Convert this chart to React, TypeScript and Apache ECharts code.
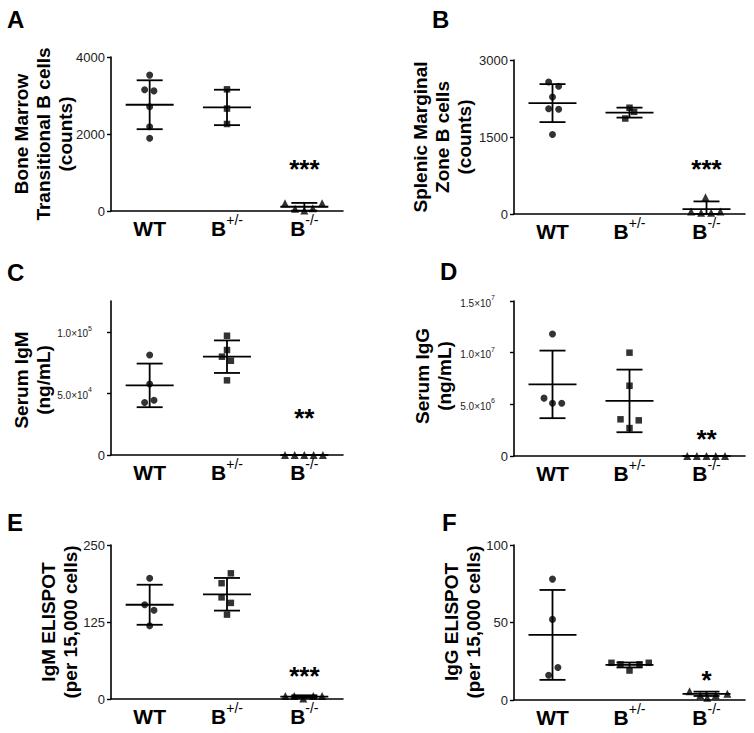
import React, { useEffect, useRef } from 'react';
import * as echarts from 'echarts';

const FONT = '"Liberation Sans", Arial, Helvetica, sans-serif';

const categories = ['WT', 'B+/-', 'B-/-'];
const catSup: Record<string, string> = { 'WT': '', 'B+/-': '+/-', 'B-/-': '-/-' };

// Panel A – Bone marrow transitional B cells (counts)
const aWT = [3530, 3150, 3120, 2710, 2190, 1890];
const aHet = [3160, 2660, 2260];
const aKO = [200, 60, 10, 70, 200];
const aMean = [2760, 2690, 110];
const aSD = [635, 460, 100];
const aTicks = [0, 2000, 4000];
const aStar = 1100;

// Panel B – Splenic marginal zone B cells (counts)
const bWT = [2570, 2490, 2280, 2050, 2040, 1550];
const bHet = [2070, 1990, 1860];
const bKO = [50, 25, 325, 25, 50];
const bMean = [2160, 1975, 95];
const bSD = [370, 97, 150];
const bTicks = [0, 1500, 3000];
const bStar = 870;

// Panel C – Serum IgM (ng/mL)
const cWT = [81100, 57700, 44500, 42600];
const cHet = [96800, 85200, 79800, 76500, 60600];
const cKO = [0, 0, 0, 0, 0];
const cMean = [56500, 79800, 0];
const cSD = [17700, 13200, 0];
const cTicks = [0, 50000, 100000];
const cStar = 30000;

// Panel D – Serum IgG (ng/mL)
const dWT = [11800000, 5600000, 5100000, 5100000];
const dHet = [10000000, 6800000, 3550000, 3450000, 2700000];
const dKO = [0, 0, 0, 0, 0];
const dMean = [6930000, 5330000, 0];
const dSD = [3270000, 3030000, 0];
const dTicks = [0, 5000000, 10000000, 15000000];
const dStar = 1620000;

// Panel E – IgM ELISPOT (per 15,000 cells)
const eWT = [196, 153, 144, 119];
const eHet = [204, 188, 165, 156, 137];
const eKO = [5, 5, 1, 5, 5];
const eMean = [153, 170, 4];
const eSD = [32.5, 26.5, 2];
const eTicks = [0, 125, 250];
const eStar = 37;

// Panel F – IgG ELISPOT (per 15,000 cells)
const fWT = [78, 52, 21, 16];
const fHet = [24, 23, 19, 23, 24];
const fKO = [5.7, 3, 1.5, 3, 4];
const fMean = [42, 22.6, 4];
const fSD = [29, 1.6, 1.4];
const fTicks = [0, 50, 100];
const fStar = 13;

// horizontal jitter of points within each group (category units)
const aJit = [[0, -0.065, 0.055, 0, 0, 0], [0, 0, 0], [-0.25, -0.12, 0, 0.11, 0.23]];
const bJit = [[-0.05, 0.08, 0, -0.05, 0.08, 0], [0, 0.06, -0.055], [-0.2, -0.07, -0.013, 0.06, 0.18]];
const cJit = [[0, 0, 0.056, -0.065], [0, 0, -0.065, 0.05, 0], [-0.25, -0.125, 0, 0.12, 0.24]];
const dJit = [[0, -0.11, 0, 0.12], [0, 0, -0.117, 0.12, 0], [-0.25, -0.125, 0, 0.12, 0.24]];
const eJit = [[0, -0.064, 0.056, 0], [0.05, -0.07, -0.07, 0.05, 0], [-0.245, -0.13, -0.013, 0.116, 0.23]];
const fJit = [[0, 0, 0.07, -0.05], [-0.234, -0.117, 0, 0.13, 0.25], [-0.22, -0.08, 0.01, 0.12, 0.27]];

const panels = [
  { letter: 'A', groups: [aWT, aHet, aKO], jit: aJit, mean: aMean, sd: aSD, ticks: aTicks, max: 4000, sci: false, star: aStar, stars: '***',
    title: 'Bone Marrow\nTransitional B cells\n(counts)' },
  { letter: 'B', groups: [bWT, bHet, bKO], jit: bJit, mean: bMean, sd: bSD, ticks: bTicks, max: 3000, sci: false, star: bStar, stars: '***',
    title: 'Splenic Marginal\nZone B cells\n(counts)' },
  { letter: 'C', groups: [cWT, cHet, cKO], jit: cJit, mean: cMean, sd: cSD, ticks: cTicks, max: 125000, sci: true, star: cStar, stars: '**',
    title: 'Serum IgM\n(ng/mL)' },
  { letter: 'D', groups: [dWT, dHet, dKO], jit: dJit, mean: dMean, sd: dSD, ticks: dTicks, max: 15000000, sci: true, star: dStar, stars: '**',
    title: 'Serum IgG\n(ng/mL)' },
  { letter: 'E', groups: [eWT, eHet, eKO], jit: eJit, mean: eMean, sd: eSD, ticks: eTicks, max: 250, sci: false, star: eStar, stars: '***',
    title: 'IgM ELISPOT\n(per 15,000 cells)' },
  { letter: 'F', groups: [fWT, fHet, fKO], jit: fJit, mean: fMean, sd: fSD, ticks: fTicks, max: 100, sci: false, star: fStar, stars: '*',
    title: 'IgG ELISPOT\n(per 15,000 cells)' },
];

// layout (pixels)
const grids = [
  { left: 111, top: 57, width: 232, height: 154 },
  { left: 514, top: 60, width: 231, height: 154 },
  { left: 111, top: 301, width: 232, height: 154 },
  { left: 514, top: 301, width: 231, height: 155 },
  { left: 111, top: 545, width: 232, height: 154 },
  { left: 514, top: 545, width: 231, height: 155 },
];
const letterPos = [[7, 7], [432, 7], [7, 260], [440, 259], [7, 510], [442, 510]];
const titlePos = [[43.5, 134], [442, 137], [32, 380], [433.5, 376], [59, 622], [462, 622]];
const symbols = ['circle', 'rect', 'triangle'];
const symbolSizes = [7, 6.5, 8];

const sciFmt = (v: number) => {
  if (v === 0) return '0';
  const e = Math.floor(Math.log10(v) + 1e-9);
  const m = v / Math.pow(10, e);
  return `{n|${m.toFixed(1)}×10}{e|${e}}`;
};

export default function App() {
  const ref = useRef<HTMLDivElement>(null);
  useEffect(() => {
    if (!ref.current) return;
    const chart = echarts.init(ref.current, undefined, { renderer: 'svg' });
    const black = '#000';
    const grid: any[] = [];
    const xAxis: any[] = [];
    const yAxis: any[] = [];
    const series: any[] = [];
    const graphic: any[] = [];

    panels.forEach((p, i) => {
      grid.push({ ...grids[i], containLabel: false });
      xAxis.push({
        type: 'category', gridIndex: i, data: categories, boundaryGap: true,
        axisLine: { onZero: false, lineStyle: { color: black, width: 1.6 } },
        axisTick: { alignWithLabel: true, length: 4, lineStyle: { color: black, width: 1.4 } },
        axisLabel: {
          margin: 2,
          formatter: (v: string) => (catSup[v] ? `{b|B}{s|${catSup[v]}}` : `{b|${v}}`),
          rich: {
            b: { fontFamily: FONT, fontSize: 21, fontWeight: 'bold', color: black, lineHeight: 26, verticalAlign: 'bottom' },
            s: { fontFamily: FONT, fontSize: 14, color: black, lineHeight: 14, verticalAlign: 'top' },
          },
        },
      });
      xAxis.push({ type: 'value', gridIndex: i, min: -0.5, max: 2.5, show: false, axisLine: { onZero: false } });
      yAxis.push({
        type: 'value', gridIndex: i, min: 0, max: p.max,
        splitLine: { show: false },
        axisLine: { show: true, onZero: false, lineStyle: { color: black, width: 1.6 } },
        axisTick: { show: true, length: 4, customValues: p.ticks, lineStyle: { color: black, width: 1.4 } },
        axisLabel: {
          customValues: p.ticks,
          margin: 6,
          fontFamily: FONT,
          fontSize: 13,
          color: '#222',
          formatter: p.sci ? sciFmt : (v: number) => String(v),
          rich: {
            n: { fontFamily: FONT, fontSize: 10, color: '#222', lineHeight: 14, verticalAlign: 'bottom' },
            e: { fontFamily: FONT, fontSize: 7, color: '#222', lineHeight: 14, verticalAlign: 'top', padding: [0, 13, 0, 0] },
          },
        },
      });

      // error bars (mean ± SD)
      series.push({
        type: 'custom', xAxisIndex: 2 * i + 1, yAxisIndex: i,
        data: p.mean.map((m, k) => [k, m, p.sd[k]]),
        renderItem: (_params: any, api: any) => {
          const x = api.value(0), m = api.value(1), s = api.value(2);
          const c = api.coord([x, m]);
          const hi = api.coord([x, m + s]);
          const lo = api.coord([x, Math.max(0, m - s)]);
          const style = { stroke: black, lineWidth: 1.8 };
          return {
            type: 'group',
            children: [
              { type: 'line', shape: { x1: c[0] - 24, y1: c[1], x2: c[0] + 24, y2: c[1] }, style },
              { type: 'line', shape: { x1: c[0], y1: hi[1], x2: c[0], y2: lo[1] }, style },
              { type: 'line', shape: { x1: c[0] - 13, y1: hi[1], x2: c[0] + 13, y2: hi[1] }, style },
              { type: 'line', shape: { x1: c[0] - 13, y1: lo[1], x2: c[0] + 13, y2: lo[1] }, style },
            ],
          };
        },
      });

      // individual points
      p.groups.forEach((g, k) => {
        series.push({
          type: 'scatter', xAxisIndex: 2 * i + 1, yAxisIndex: i, clip: false,
          symbol: symbols[k], symbolSize: symbolSizes[k],
          itemStyle: { color: black },
          data: g.map((v, j) => [k + p.jit[k][j], v]),
        });
      });

      // significance stars
      series.push({
        type: 'scatter', xAxisIndex: 2 * i + 1, yAxisIndex: i, clip: false,
        symbol: 'circle', symbolSize: 0.1, itemStyle: { color: black, opacity: 1 },
        data: [[2, p.star]],
        label: {
          show: true, position: 'inside', formatter: p.stars,
          fontFamily: FONT, fontSize: 26, fontWeight: 'bold', color: black,
          textBorderWidth: 0, opacity: 1,
        },
      });

      graphic.push({
        type: 'text', left: letterPos[i][0], top: letterPos[i][1],
        style: { text: p.letter, fontFamily: FONT, fontSize: 24, fontWeight: 'bold', fill: black },
      });
      graphic.push({
        type: 'text', x: titlePos[i][0], y: titlePos[i][1], rotation: Math.PI / 2,
        style: {
          text: p.title, fontFamily: FONT, fontSize: 19, fontWeight: 'bold', fill: black,
          align: 'center', verticalAlign: 'middle', lineHeight: 22,
        },
      });
    });

    chart.setOption({
      animation: false,
      backgroundColor: '#fff',
      grid, xAxis, yAxis, series, graphic,
    });
    return () => chart.dispose();
  }, []);
  return <div ref={ref} style={{ position: 'absolute', left: 0, top: 0, width: 754, height: 733, background: '#fff' }} />;
}
